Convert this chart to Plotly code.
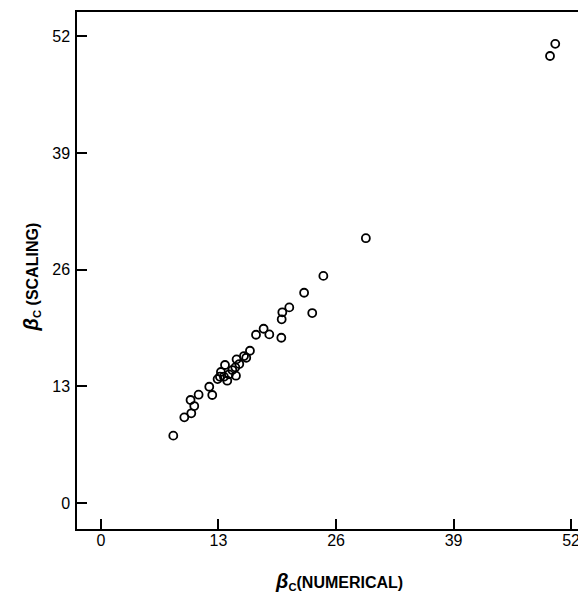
import plotly.graph_objects as go

# Data
beta_numerical = [8.0, 9.22, 9.99, 10.32, 9.91, 10.8, 11.98, 12.31, 12.9, 13.16, 13.6,
                  13.97, 13.27, 14.16, 14.93, 14.53, 13.72, 14.86, 15.3, 15.0, 15.82,
                  16.07, 16.48, 17.15, 17.99, 18.62, 19.95, 19.99, 20.06, 20.83, 23.37,
                  22.47, 24.6, 29.3, 49.67, 50.25]
beta_scaling = [7.5, 9.54, 9.99, 10.8, 11.47, 12.06, 12.95, 12.03, 13.8, 14.07, 14.07,
                13.62, 14.59, 14.33, 14.18, 14.81, 15.37, 15.11, 15.48, 16.0, 16.37,
                16.18, 16.96, 18.74, 19.41, 18.78, 18.41, 20.46, 21.24, 21.79, 21.16,
                23.42, 25.3, 29.5, 49.8, 51.15]
tick_values = [0, 13, 26, 39, 52]
tick_labels = ["0", "13", "26", "39", "52"]

FONT = "Liberation Sans, Arial, Helvetica, sans-serif"

fig = go.Figure()
fig.add_trace(go.Scatter(
    x=beta_numerical, y=beta_scaling, mode="markers",
    marker=dict(symbol="circle-open", size=8, color="black", line=dict(width=1.8, color="black")),
    showlegend=False, hoverinfo="x+y",
))

axis_common = dict(
    tickvals=tick_values, ticktext=tick_labels,
    ticks="inside", ticklen=10, tickwidth=1.5, tickcolor="black",
    showline=True, linecolor="black", linewidth=1.5,
    showgrid=False, zeroline=False,
    tickfont=dict(family=FONT, size=16, color="black"),
)

beta = "<span style='font-size:20px'><i>β</i></span>"

# page body has an 8px default margin, so the figure is 8px smaller and offset
fig.update_layout(
    width=578, height=584,
    margin=dict(l=69, r=0, t=4, b=63),
    paper_bgcolor="white", plot_bgcolor="white",
    xaxis=dict(range=[-2.65, 53.65], mirror=True, ticklabelstandoff=-4, **axis_common),
    yaxis=dict(range=[-2.9, 54.7], mirror=False, ticklabelstandoff=2, **axis_common),
    annotations=[
        dict(text="<b>" + beta + "<sub>C</sub>(NUMERICAL)</b>", xref="paper", yref="paper",
             x=0.515, y=-0.1025, xanchor="center", yanchor="middle", showarrow=False,
             font=dict(family=FONT, size=16, color="black")),
        dict(text="<b>" + beta + "<sub>C</sub> (SCALING)</b>", xref="paper", yref="paper",
             x=-0.09, y=0.487, xanchor="center", yanchor="middle", showarrow=False,
             textangle=-90, font=dict(family=FONT, size=16, color="black")),
    ],
)

fig.write_html("out.html")
